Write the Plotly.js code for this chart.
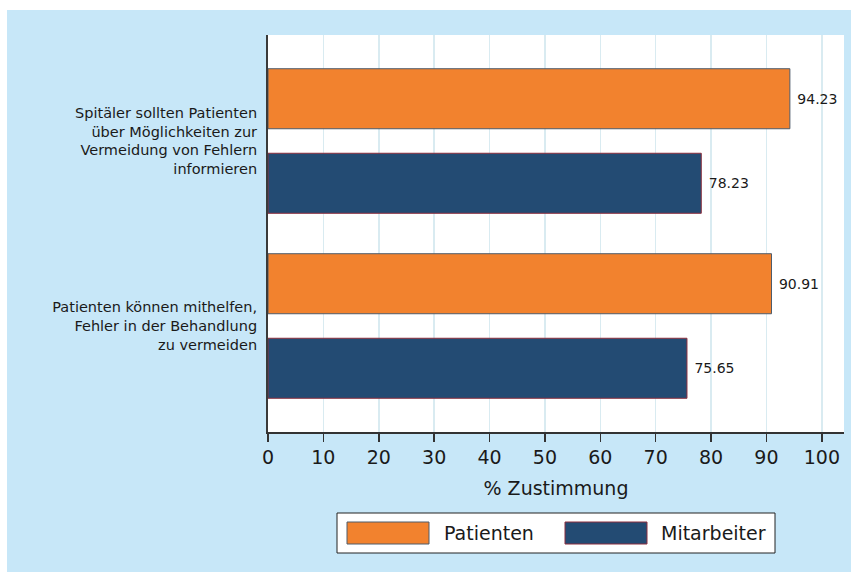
<!DOCTYPE html>
<html>
<head>
<meta charset="utf-8">
<script src="https://cdn.plot.ly/plotly-3.0.1.min.js"></script>
<style>
  html, body { margin: 0; padding: 0; background: #ffffff; width: 851px; height: 572px; overflow: hidden; }
  #chart { position: absolute; left: 7px; top: 10px; width: 844px; height: 562px; }
</style>
</head>
<body>
<div id="chart"></div>
<script>
// ---- data ----
const categories = [
  "Spitäler sollten Patienten<br>über Möglichkeiten zur<br>Vermeidung von Fehlern<br>informieren",
  "Patienten können mithelfen,<br>Fehler in der Behandlung<br>zu vermeiden"
];
const seriesNames = ["Patienten", "Mitarbeiter"];
const patientenValues = [94.23, 90.91];
const mitarbeiterValues = [78.23, 75.65];
const xTickValues = [0, 10, 20, 30, 40, 50, 60, 70, 80, 90, 100];
const xTitle = "% Zustimmung";

// ---- styles ----
const fillColors = ["#f2822e", "#234b73"];
const lineColors = ["#4f5c6b", "#8c2f3e"];
const FONT = "DejaVu Sans, sans-serif";
const TEXT = "#1a1a1a";

const seriesValues = [patientenValues, mitarbeiterValues];
const traces = seriesNames.map((name, i) => ({
  type: "bar",
  orientation: "h",
  name: name,
  y: categories,
  x: seriesValues[i],
  marker: { color: fillColors[i], line: { color: lineColors[i], width: 1 } },
  text: seriesValues[i].map(v => "\u00a0" + v.toFixed(2)),
  textposition: "outside",
  textfont: { family: FONT, size: 14, color: TEXT },
  cliponaxis: false,
  hoverinfo: "skip",
  showlegend: false
}));

// custom legend (large swatches) built from series names & colors
const legendShapes = [{
  type: "rect", xref: "paper", yref: "paper",
  xsizemode: "pixel", ysizemode: "pixel", xanchor: 0, yanchor: 0,
  x0: 69, x1: 507, y0: -81, y1: -121,
  line: { color: "#222222", width: 1 }, fillcolor: "#ffffff", layer: "above"
}];
const legendAnnotations = [];
const swatchX = [79, 297];
const labelX = [174, 391];
seriesNames.forEach((name, i) => {
  legendShapes.push({
    type: "rect", xref: "paper", yref: "paper",
    xsizemode: "pixel", ysizemode: "pixel", xanchor: 0, yanchor: 0,
    x0: swatchX[i], x1: swatchX[i] + 82, y0: -90, y1: -112,
    line: { color: lineColors[i], width: 1 }, fillcolor: fillColors[i], layer: "above"
  });
  legendAnnotations.push({
    xref: "paper", yref: "paper", x: 0, y: 0,
    xshift: labelX[i], yshift: -101,
    xanchor: "left", yanchor: "middle",
    text: name, showarrow: false,
    font: { family: FONT, size: 19, color: TEXT }
  });
});

const layout = {
  width: 844, height: 562,
  paper_bgcolor: "#c7e7f8",
  plot_bgcolor: "#ffffff",
  margin: { l: 261, r: 7, t: 25, b: 140, pad: 0 },
  font: { family: FONT, color: TEXT },
  barmode: "group",
  bargap: 0.086,
  bargroupgap: 0.29,
  showlegend: false,
  xaxis: {
    range: [0, 104],
    tickvals: xTickValues,
    ticktext: xTickValues.map(String),
    tickfont: { family: FONT, size: 19, color: TEXT },
    ticks: "outside", ticklen: 8, tickwidth: 1.5, tickcolor: "#333333",
    showline: true, linecolor: "#333333", linewidth: 1.5,
    showgrid: true, gridcolor: "#d9ebf1", gridwidth: 1.5,
    zeroline: false,
    title: { text: xTitle, font: { family: FONT, size: 19, color: TEXT }, standoff: 14 }
  },
  yaxis: {
    type: "category",
    range: [1.573, -0.573],
    autorange: false,
    tickfont: { family: FONT, size: 14.5, color: TEXT },
    ticks: "", ticklabelstandoff: 6,
    showline: true, linecolor: "#3a3a3a", linewidth: 2,
    showgrid: false, zeroline: false
  },
  shapes: legendShapes,
  annotations: legendAnnotations
};

Plotly.newPlot("chart", traces, layout, { displayModeBar: false, staticPlot: true });
</script>
</body>
</html>
